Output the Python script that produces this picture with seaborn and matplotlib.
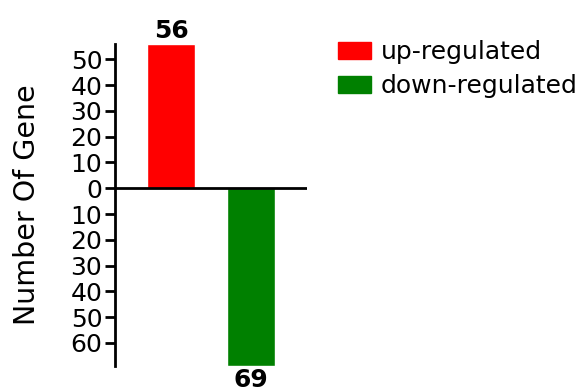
import matplotlib
matplotlib.use("Agg")
import matplotlib.pyplot as plt
import seaborn as sns
import pandas as pd

categories = ["up-regulated", "down-regulated"]
gene_counts = [56, -69]
bar_colors = ["#ff0000", "#008000"]
tick_values = [-60, -50, -40, -30, -20, -10, 0, 10, 20, 30, 40, 50]
tick_labels = [str(abs(v)) for v in tick_values]

sns.set_style("white")
plt.rcParams["font.family"] = ["DejaVu Sans"]
plt.rcParams["text.color"] = "black"
plt.rcParams["axes.labelcolor"] = "black"
plt.rcParams["ytick.color"] = "black"

df = pd.DataFrame({"category": categories, "count": gene_counts})

fig = plt.figure(figsize=(5.83, 3.92), dpi=100)
ax = fig.add_axes([0.197, 0.066, 0.33, 0.822])

sns.barplot(data=df, x="category", y="count", hue="category",
            palette=bar_colors, width=0.6, dodge=False, legend=False,
            saturation=1, ax=ax)

for container, value in zip(ax.containers, gene_counts):
    ax.bar_label(container, labels=[str(abs(value))], padding=1,
                 fontsize=18, fontweight="bold", color="black")

ax.axhline(0, color="black", linewidth=2, zorder=3)
ax.set_xlim(-0.7, 1.7)
ax.set_ylim(-69, 56)
ax.set_yticks(tick_values)
ax.set_yticklabels(tick_labels, fontsize=18)
ax.set_xticks([])
ax.set_xlabel("")
ax.set_ylabel("Number Of Gene", fontsize=20.5, labelpad=21)
ax.tick_params(axis="y", direction="out", length=7, width=2, pad=2,
               left=True, colors="black")

for side in ["top", "right", "bottom"]:
    ax.spines[side].set_visible(False)
ax.spines["left"].set_linewidth(2)
ax.spines["left"].set_color("black")

handles = [plt.Rectangle((0, 0), 1, 1, color=c) for c in bar_colors]
fig.legend(handles, categories, loc="upper left",
           bbox_to_anchor=(0.58, 0.897), frameon=False, fontsize=18,
           handlelength=1.3, handleheight=0.65, handletextpad=0.4,
           labelspacing=0.4, borderaxespad=0, borderpad=0)

fig.savefig("out.png", dpi=100)
